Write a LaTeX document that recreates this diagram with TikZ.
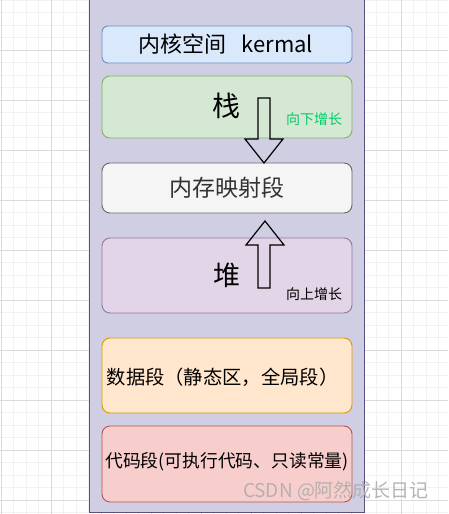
\documentclass[tikz,border=0pt]{standalone}
\usepackage{fontspec}
\setmainfont{Noto Sans CJK SC}
\begin{document}
\begin{tikzpicture}[x=1pt,y=-1pt,
  seg/.style={draw,rounded corners=8pt,line width=0.9pt},
  lbl/.style={inner sep=0pt,font=\fontsize{22}{24}\selectfont},
  hollowarrow/.style={draw=black,line width=1.2pt,line join=miter},
  growlbl/.style={inner sep=0pt,font=\fontsize{14}{16}\selectfont}]
\definecolor{gridminor}{HTML}{F2F2F2}
\definecolor{gridmajor}{HTML}{DADADA}
\definecolor{outerfill}{HTML}{D0CEE2}
\definecolor{outerline}{HTML}{56517E}
\useasboundingbox (0,0) rectangle (448,514);
\fill[white] (0,0) rectangle (448,514);
% grid
\foreach \i in {0,...,36} {\draw[gridminor,line width=0.8pt] ({1+12.5*\i},0) -- ({1+12.5*\i},514);}
\foreach \i in {0,...,41} {\draw[gridminor,line width=0.8pt] (0,{12.5*\i}) -- (448,{12.5*\i});}
\foreach \i in {0,...,8} {\draw[gridmajor,line width=0.8pt] ({1+50*\i},0) -- ({1+50*\i},514);}
\foreach \i in {1,...,10} {\draw[gridmajor,line width=0.8pt] (0,{50*\i}) -- (448,{50*\i});}
% outer
\draw[fill=outerfill,draw=outerline,line width=1.4pt] (89.5,-5) rectangle (364.5,512.5);
% segments
\draw[seg,fill={rgb,255:red,218;green,232;blue,252},draw={rgb,255:red,108;green,142;blue,191},rounded corners=6pt] (102,26) rectangle (352,63);
\node[lbl] (kernel) at (226,44) {内核空间\ \ \ kermal};
\draw[seg,fill={rgb,255:red,213;green,232;blue,212},draw={rgb,255:red,130;green,179;blue,102}] (102,76) rectangle (352,138);
\node[lbl,font=\fontsize{28}{30}\selectfont] (stack) at (226,106) {栈};
\node[growlbl,text={rgb,255:red,0;green,204;blue,102}] (down) at (314,119) {向下增长};
\draw[seg,fill={rgb,255:red,245;green,245;blue,245},draw={rgb,255:red,102;green,102;blue,102}] (102,163) rectangle (352,213);
\node[lbl,text={rgb,255:red,51;green,51;blue,51},font=\fontsize{23}{25}\selectfont] (mmap) at (226.5,188) {内存映射段};
\draw[seg,fill={rgb,255:red,225;green,213;blue,231},draw={rgb,255:red,150;green,115;blue,166}] (102,238) rectangle (352,313);
\node[lbl,font=\fontsize{27}{29}\selectfont] (heap) at (226.5,275) {堆};
\node[growlbl] (up) at (314,294.5) {向上增长};
\draw[seg,fill={rgb,255:red,255;green,230;blue,204},draw={rgb,255:red,215;green,155;blue,0}] (102,338) rectangle (352,413);
\node[lbl,font=\fontsize{19.3}{22}\selectfont] (data) at (222.5,377) {数据段（静态区，全局段）};
\draw[seg,fill={rgb,255:red,248;green,206;blue,204},draw={rgb,255:red,184;green,84;blue,80}] (102,426) rectangle (352,502);
\node[lbl,font=\fontsize{17.8}{22}\selectfont] (code) at (227,462) {代码段(可执行代码、只读常量)};
% arrows
\draw[hollowarrow] (258,98) -- (270,98) -- (270,139) -- (283,139) -- (264,163) -- (245,139) -- (258,139) -- cycle;
\draw[hollowarrow] (258,288) -- (270,288) -- (270,245) -- (284,245) -- (265,221) -- (246,245) -- (258,245) -- cycle;
% watermark
\node[inner sep=0pt,text=black!32,opacity=0.9,font=\fontsize{19}{21}\selectfont] (wm) at (336,491) {CSDN @阿然成长日记};
\end{tikzpicture}
\end{document}
